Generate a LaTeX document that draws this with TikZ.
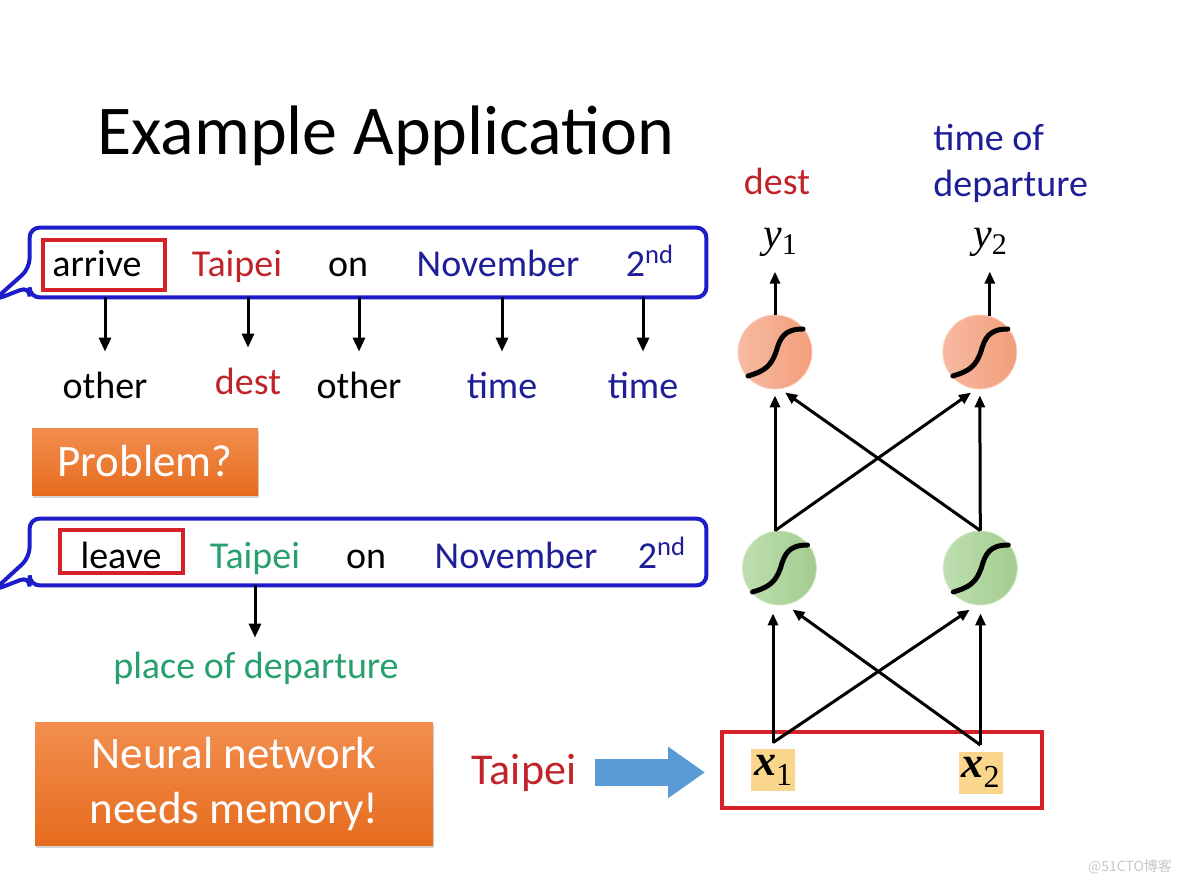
\documentclass[tikz,border=0pt]{standalone}
\usepackage{fontspec}
\setmainfont{Carlito}
\newfontfamily\timesfont{Liberation Serif}
\newfontfamily\cjkfont{Noto Sans CJK SC}
\usepackage{xcolor}
\usetikzlibrary{arrows.meta, positioning, shadows}

\definecolor{wordred}{RGB}{192,36,42}
\definecolor{wordblue}{RGB}{30,30,150}
\definecolor{wordgreen}{RGB}{40,160,110}
\definecolor{calloutblue}{RGB}{28,28,200}
\definecolor{markred}{RGB}{212,34,40}
\definecolor{alerttop}{RGB}{242,142,78}
\definecolor{alertbot}{RGB}{230,108,30}
\definecolor{salmonL}{RGB}{247,186,162}
\definecolor{salmonR}{RGB}{242,158,122}
\definecolor{greenL}{RGB}{190,222,175}
\definecolor{greenR}{RGB}{163,204,143}
\definecolor{inyellow}{RGB}{250,214,140}
\definecolor{pushblue}{RGB}{91,155,213}

\newcommand{\xvar}[1]{{\timesfont\fontsize{22}{22}\selectfont\bfseries\itshape x}\raisebox{-5pt}{\timesfont\fontsize{16}{16}\selectfont #1}}
\newcommand{\yvar}[1]{{\timesfont\fontsize{21}{21}\selectfont\itshape y}\raisebox{-3.5pt}{\timesfont\fontsize{15}{15}\selectfont #1}}

\tikzset{
  title/.style={font=\fontsize{35}{42}\selectfont, anchor=base, inner sep=0pt},
  word/.style={font=\fontsize{19}{23}\selectfont, anchor=base, inner sep=0pt},
  tag/.style={word, text height=14pt},
  frame/.style={minimum width=338pt, inner sep=0pt},
  callout/.style={draw=calloutblue, line width=2pt, rounded corners=5pt},
  wordbox/.style={draw=markred, line width=2pt},
  down/.style={-{Triangle[length=7pt,width=6pt]}, line width=1.5pt},
  alert/.style={top color=alerttop, bottom color=alertbot, text=white, inner sep=0pt,
    font=\fontsize{22.5}{27.5}\selectfont,
    drop shadow={shadow xshift=0.6pt, shadow yshift=-1.6pt, opacity=0.35}},
  neuron/.style={circle, minimum size=37pt, inner sep=0pt},
  outneuron/.style={neuron, left color=salmonL, right color=salmonR, draw=salmonL!70!white},
  hidneuron/.style={neuron, left color=greenL, right color=greenR, draw=greenL!70!white},
  sig/.style={line width=2.5pt, line cap=round},
  link/.style={-{Triangle[length=6pt,width=5pt]}, line width=1.5pt},
  inbox/.style={fill=inyellow, minimum width=22pt, minimum height=21pt, inner sep=0pt},
  push/.style={-{Triangle[length=18.5pt,width=24.5pt]}, line width=13.5pt, draw=pushblue,
    shorten <=9pt, shorten >=7.5pt},
}

\begin{document}
\begin{tikzpicture}[x=0.5pt, y=-0.5pt]
\useasboundingbox (0,0) rectangle (1184,888);

\node[title] (head) at (386,155) {Example Application};

% arrive Taipei on November 2nd
\node[frame, minimum height=34.5pt] (sent1) at (368,262.5) {};
\draw[callout] (sent1.north west) -- (sent1.north east) -- (sent1.south east) -- (sent1.south west)
  -- ++(0,-11) -- ++(-36,14) -- ++(36,-32) -- cycle;
\node[word] (arrive) at (97,276) {arrive};
\node[word, text=wordred] (taipei1) at (237,276) {Taipei};
\node[word] (on1) at (348,276) {on};
\node[word, text=wordblue] (nov1) at (498,276) {November};
\node[word, text=wordblue] (day1) at (650,276) {2\textsuperscript{nd}};
\draw[wordbox] (arrive.base) ++(-54,-36) rectangle ++(122,50);

\node[tag] (other1) at (105,398) {other};
\node[tag, text=wordred] (dest1) at (248,394) {dest};
\node[tag] (other2) at (359,398) {other};
\node[tag, text=wordblue] (time1) at (502,398) {time};
\node[tag, text=wordblue] (time2) at (643,398) {time};
\foreach \t in {other1,dest1,other2,time1,time2}
  \draw[down, shorten >=9pt] (sent1.south -| \t) -- (\t.north);

\node[alert, minimum width=113pt, minimum height=33.5pt] (problem) at (145,461.5) {Problem?};

% leave Taipei on November 2nd
\node[frame, minimum height=33pt] (sent2) at (368,552) {};
\draw[callout] (sent2.north west) -- (sent2.north east) -- (sent2.south east) -- (sent2.south west)
  -- ++(0,-9) -- ++(-36,14) -- ++(36,-33) -- cycle;
\node[word] (leave) at (121,568) {leave};
\node[word, text=wordgreen] (taipei2) at (255,568) {Taipei};
\node[word] (on2) at (366,568) {on};
\node[word, text=wordblue] (nov2) at (516,568) {November};
\node[word, text=wordblue] (day2) at (662,568) {2\textsuperscript{nd}};
\draw[wordbox] (leave.base) ++(-61,-38) rectangle ++(123,43);

\node[tag, text=wordgreen] (place) at (256,678) {place of departure};
\draw[down, shorten >=6pt] (sent2.south -| taipei2) -- (taipei2 |- place.north);

\node[alert, minimum width=199pt, minimum height=61.5pt, align=center] (memory) at (234,783.5)
  {Neural network\\needs memory!};

% network
\node[word, text=wordred] (destout) at (777,194) {dest};
\node[word, text=wordblue, align=left, anchor=north west] (timeout) at (933,124) {time of\\departure};
\node (y1) at (780,242) {\yvar{1}};
\node (y2) at (990,242) {\yvar{2}};

\node[outneuron] (o1) at (775,352) {};
\node[outneuron, right=65pt of o1] (o2) {};
\node[hidneuron] (h1) at (779.5,568) {};
\node[hidneuron, right=63pt of h1] (h2) {};
\foreach \n in {o1,o2,h1,h2}
  \draw[sig, shift={(\n)}] (-27,24) .. controls (-10,19) and (-4,14) .. (1,0)
    .. controls (5,-14) and (9,-23) .. (28,-23);

\draw[link] (o1.north) -- ++(0,-43);
\draw[link] (o2.north) ++(10,1) -- ++(0,-44);

\coordinate (h1top) at (o1.south |- h1.north);
\draw[link, shorten >=3pt] (h1top) -- (o1.south);
\draw[link, shorten >=3pt] (h1top) -- (o2.-96);
\draw[link, shorten >=3pt] (h2.north) -- (o1.-82);
\draw[link, shorten >=3pt] (h2.north) -- (o2.south);

\node[draw=markred, line width=2pt, minimum width=160pt, minimum height=38pt, inner sep=0pt] (inputs) at (882,770) {};
\node[inbox] (x1) at (773,770) {\xvar{1}};
\node[inbox] (x2) at (980.5,772.5) {\xvar{2}};
\coordinate (in1) at ([yshift=3pt]x1.north);
\coordinate (in2) at ([yshift=3pt]x2.north);
\draw[link, shorten >=4pt] (in1) -- (in1 |- h1.south);
\draw[link, shorten >=4pt] (in1) -- (h2.-96);
\draw[link, shorten >=4pt] (in2) -- (h1.-80);
\draw[link, shorten >=4pt] (in2) -- (in2 |- h2.south);

\node[word, font=\fontsize{22}{26}\selectfont, text=wordred] (taipei3) at (524,784) {Taipei};
\draw[push] (taipei3.east) -- (taipei3.east -| inputs.west);

\node[text=black!22, font=\cjkfont\fontsize{7}{8}\selectfont] (mark) at (1130,867) {@51CTO博客};
\end{tikzpicture}
\end{document}
